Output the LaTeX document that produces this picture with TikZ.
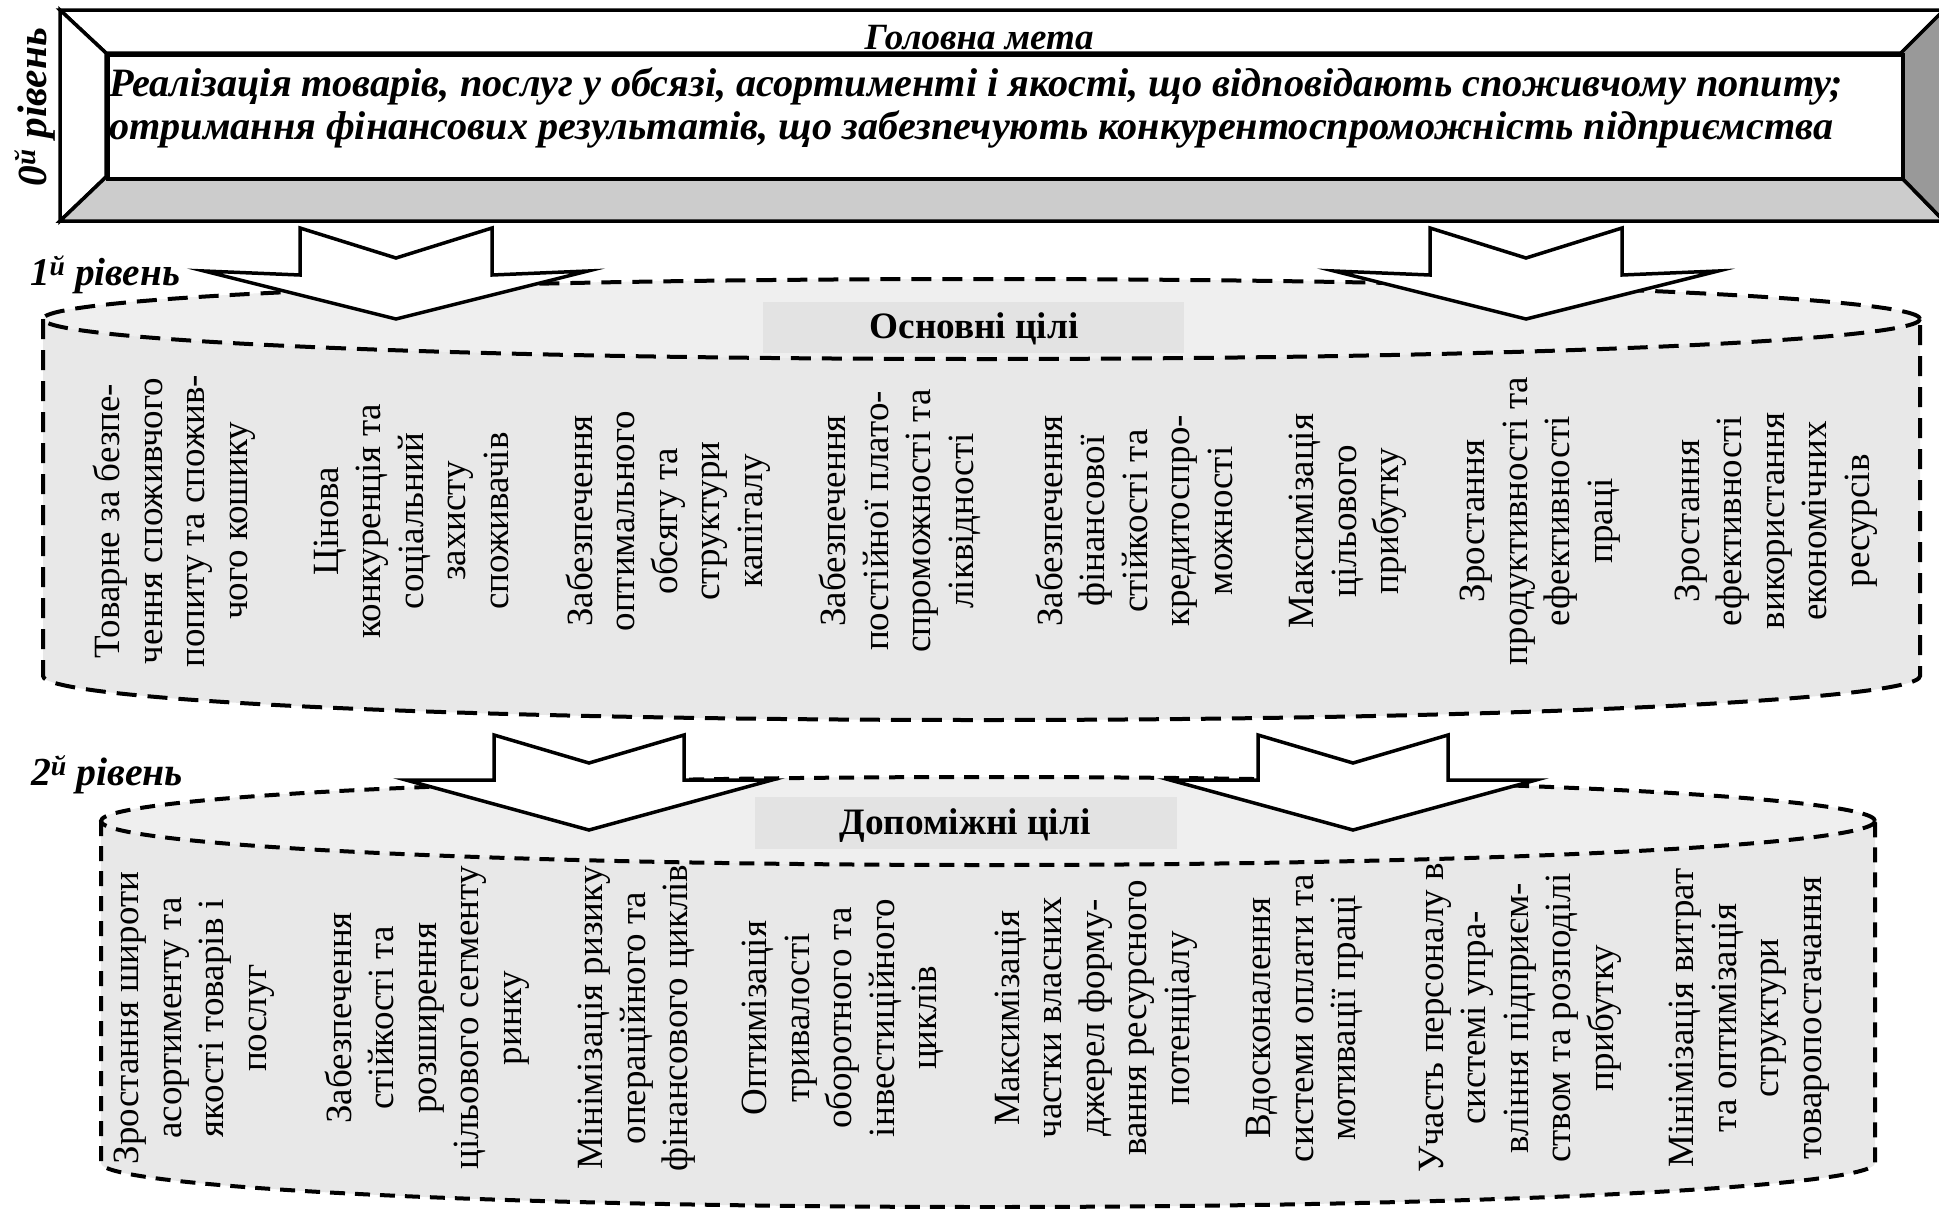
\documentclass[tikz,border=0pt]{standalone}
\usepackage{fontspec}
\setmainfont{Liberation Serif}
\usepackage{graphicx}
\definecolor{bodygray}{HTML}{E8E8E8}
\definecolor{topgray}{HTML}{EFEFEF}
\definecolor{labelgray}{HTML}{E3E3E3}
\definecolor{bottomface}{HTML}{CCCCCC}
\definecolor{rightface}{HTML}{999999}
\tikzset{
  boxline/.style={draw=black, line width=3.5pt, line join=miter},
  cylA/.style={draw=black, line width=4pt, dash pattern=on 20pt off 11pt},
  cylB/.style={draw=black, line width=4pt, dash pattern=on 15pt off 10pt},
  blockarrow/.style={draw=black, fill=white, line width=3.5pt, line join=miter},
  goal/.style={rotate=90, align=center, inner sep=0pt, font=\fontsize{37}{42.5}\selectfont},
  levellabel/.style={inner sep=0pt, font=\bfseries\itshape},
  heading/.style={inner sep=0pt, font=\bfseries},
  headbox/.style={fill=labelgray, draw=none, inner sep=0pt},
}
\begin{document}
\begin{tikzpicture}[x=1pt,y=1pt]
\clip (0,0) rectangle (1939,-1208);
\fill[white] (0,0) rectangle (1939,-1208);

% ---------- level 0 : bevelled box ----------
\filldraw[boxline, fill=white] (60,-10) -- (1944,-10) -- (1901,-53) -- (106,-53) -- cycle;
\filldraw[boxline, fill=white] (60,-10) -- (106,-53) -- (106,-177) -- (60,-221) -- cycle;
\filldraw[boxline, fill=bottomface] (60,-221) -- (106,-177) -- (1901,-177) -- (1944,-221) -- cycle;
\filldraw[boxline, fill=rightface] (1944,-10) -- (1901,-53) -- (1901,-177) -- (1944,-221) -- cycle;
\node[boxline, fill=white, anchor=north west, minimum width=1795pt, minimum height=124pt, inner sep=0pt] (mainbox) at (106,-53) {};

\node[levellabel, anchor=base] (title) at (979,-49) {\resizebox{229pt}{!}{\fontsize{28}{32}\selectfont Головна мета}};
\node[levellabel, anchor=base west] (line1) at (109,-96) {\resizebox{1734pt}{!}{\fontsize{35}{40}\selectfont Реалізація товарів, послуг у обсязі, асортименті і якості, що відповідають споживчому попиту;}};
\node[levellabel, anchor=base west] (line2) at (109,-139) {\resizebox{1724pt}{!}{\fontsize{35}{40}\selectfont отримання фінансових результатів, що забезпечують конкурентоспроможність підприємства}};
\node[levellabel, rotate=90] (lev0) at (35,-107) {\resizebox{158pt}{!}{\fontsize{36}{40}\selectfont 0\textsuperscript{й} рівень}};

% ---------- level 1 cylinder ----------
\fill[bodygray] (43,-319) -- (43,-676) arc[start angle=180, end angle=360, x radius=938.5, y radius=44] -- (1920,-319) arc[start angle=0, end angle=180, x radius=938.5, y radius=40] -- cycle;
\fill[topgray] (981.5,-319) ellipse[x radius=938.5, y radius=40];
\draw[cylA] (981.5,-319) ellipse[x radius=938.5, y radius=40];
\draw[cylA] (43,-319) -- (43,-676) arc[start angle=180, end angle=360, x radius=938.5, y radius=44] -- (1920,-319);

% ---------- level 2 cylinder ----------
\fill[bodygray] (101,-821) -- (101,-1163) arc[start angle=180, end angle=360, x radius=887, y radius=44] -- (1875,-821) arc[start angle=0, end angle=180, x radius=887, y radius=44] -- cycle;
\fill[topgray] (988,-821) ellipse[x radius=887, y radius=44];
\draw[cylB] (988,-821) ellipse[x radius=887, y radius=44];
\draw[cylB] (101,-821) -- (101,-1163) arc[start angle=180, end angle=360, x radius=887, y radius=44] -- (1875,-821);

% ---------- block arrows ----------
\filldraw[blockarrow] (300,-228) -- (396,-258) -- (492,-228) -- (492,-275) -- (588,-271) -- (396,-319) -- (204,-271) -- (300,-275) -- cycle;
\filldraw[blockarrow] (1430,-228) -- (1526,-258) -- (1622,-228) -- (1622,-275) -- (1718,-271) -- (1526,-319) -- (1334,-271) -- (1430,-275) -- cycle;
\filldraw[blockarrow] (494,-735) -- (589,-763) -- (684,-735) -- (684,-780) -- (772,-780) -- (589,-830) -- (406,-780) -- (494,-780) -- cycle;
\filldraw[blockarrow] (1258,-735) -- (1353,-763) -- (1448,-735) -- (1448,-780) -- (1536,-780) -- (1353,-830) -- (1170,-780) -- (1258,-780) -- cycle;

% ---------- level labels ----------
\node[levellabel] (lev1) at (105,-275) {\resizebox{150pt}{!}{\fontsize{36}{40}\selectfont 1\textsuperscript{й} рівень}};
\node[levellabel] (lev2) at (107,-775) {\resizebox{152pt}{!}{\fontsize{36}{40}\selectfont 2\textsuperscript{й} рівень}};

% ---------- headings ----------
\fill[headbox] (763,-302) rectangle (1184,-353);
\node[heading] (main) at (974,-329) {\resizebox{209pt}{!}{\fontsize{36}{40}\selectfont Основні цілі}};
\fill[headbox] (755,-797) rectangle (1177,-849);
\node[heading] (aux) at (965,-826) {\resizebox{251pt}{!}{\fontsize{36}{40}\selectfont Допоміжні цілі}};

% ---------- level 1 goals ----------
\node[goal] (m1) at (174,-521) {Товарне за безпе-\\чення споживчого\\попиту та спожив-\\чого кошику};
\node[goal] (m2) at (411,-521) {Цінова\\конкуренція та\\соціальний\\захисту\\споживачів};
\node[goal] (m3) at (668,-521) {Забезпечення\\оптимального\\обсягу та\\структури\\капіталу};
\node[goal] (m4) at (900,-521) {Забезпечення\\постійної плато-\\спроможності та\\ліквідності};
\node[goal] (m5) at (1134,-521) {Забезпечення\\фінансової\\стійкості та\\кредитоспро-\\можності};
\node[goal] (m6) at (1348,-521) {Максимізація\\цільового\\прибутку};
\node[goal] (m7) at (1540,-521) {Зростання\\продуктивності та\\ефективності\\праці};
\node[goal] (m8) at (1776,-521) {Зростання\\ефективності\\використання\\економічних\\ресурсів};

% ---------- level 2 goals ----------
\node[goal] (a1) at (194,-1018) {Зростання широти\\асортименту та\\якості товарів і\\послуг};
\node[goal] (a2) at (427,-1018) {Забезпечення\\стійкості та\\розширення\\цільового сегменту\\ринку};
\node[goal] (a3) at (637,-1018) {Мінімізація ризику\\операційного та\\фінансового циклів};
\node[goal] (a4) at (843,-1018) {Оптимізація\\тривалості\\оборотного та\\інвестиційного\\циклів};
\node[goal] (a5) at (1096,-1018) {Максимізація\\частки власних\\джерел форму-\\вання ресурсного\\потенціалу};
\node[goal] (a6) at (1305,-1018) {Вдосконалення\\системи оплати та\\мотивації праці};
\node[goal] (a7) at (1520,-1018) {Участь персоналу в\\системі упра-\\вління підприєм-\\ством та розподілі\\прибутку};
\node[goal] (a8) at (1749,-1018) {Мінімізація витрат\\та оптимізація\\структури\\товаропостачання};
\end{tikzpicture}
\end{document}
